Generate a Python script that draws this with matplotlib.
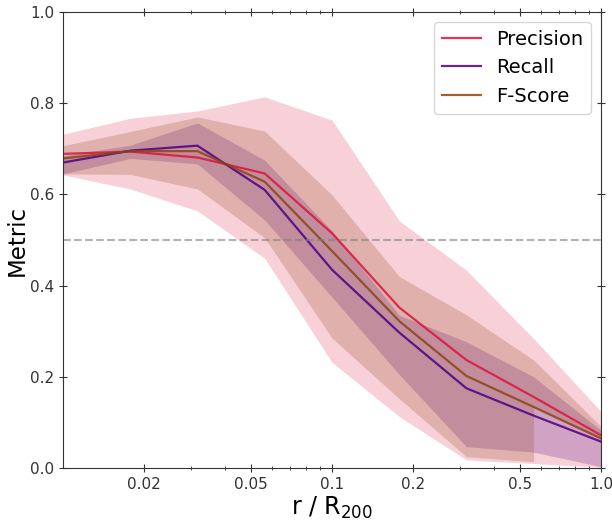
import numpy as np
import matplotlib
matplotlib.use("Agg")
import matplotlib.pyplot as plt

# radial bins (r / R200), log spaced
r_bins = [0.01, 0.0178, 0.0316, 0.0562, 0.1, 0.178, 0.316, 0.562, 1.0]

precision = [0.689, 0.694, 0.681, 0.646, 0.515, 0.352, 0.237, 0.156, 0.072]
precision_hi = [0.732, 0.767, 0.783, 0.814, 0.763, 0.542, 0.434, 0.284, 0.124]
precision_lo = [0.643, 0.612, 0.564, 0.460, 0.232, 0.113, 0.018, 0.010, 0.002]

recall = [0.670, 0.696, 0.707, 0.610, 0.435, 0.297, 0.175, 0.115, 0.058]
recall_hi = [0.685, 0.708, 0.757, 0.675, 0.520, 0.335, 0.277, 0.200, 0.083]
recall_lo = [0.645, 0.679, 0.667, 0.544, 0.375, 0.205, 0.047, 0.035, 0.003]

fscore = [0.679, 0.695, 0.695, 0.628, 0.476, 0.322, 0.202, 0.134, 0.065]
fscore_hi = [0.707, 0.738, 0.770, 0.739, 0.599, 0.420, 0.336, 0.237, 0.091]
fscore_lo = [0.645, 0.644, 0.612, 0.505, 0.285, 0.152, 0.025, 0.014, np.nan]

series = [
    ("Precision", precision, precision_lo, precision_hi, "crimson", 0.2),
    ("Recall", recall, recall_lo, recall_hi, "indigo", 0.22),
    ("F-Score", fscore, fscore_lo, fscore_hi, "saddlebrown", 0.22),
]

fig = plt.figure(figsize=(6.12, 5.23), dpi=100)
ax = fig.add_axes([0.103, 0.105, 0.879, 0.872])

x = np.array(r_bins)
# bands drawn as two halves either side of the mean
for name, mid, lo, hi, col, a in series:
    mid = np.array(mid, dtype=float)
    ax.fill_between(x, np.array(lo, dtype=float), mid, color=col, alpha=a, lw=0)
    ax.fill_between(x, mid, np.array(hi, dtype=float), color=col, alpha=a, lw=0)

for name, mid, lo, hi, col, a in series:
    ax.plot(x, mid, color=col, lw=1.6, alpha=0.85, label=name)

ax.axhline(0.5, color="gray", ls="--", lw=1.5, alpha=0.6)

ax.set_xscale("log")
ax.set_xlim(0.01, 1.0)
ax.set_ylim(0.0, 1.0)
ax.set_xticks([0.02, 0.05, 0.1, 0.2, 0.5, 1.0])
ax.set_xticklabels(["0.02", "0.05", "0.1", "0.2", "0.5", "1.0"])
ax.set_yticks([0.0, 0.2, 0.4, 0.6, 0.8, 1.0])
ax.set_yticklabels(["0.0", "0.2", "0.4", "0.6", "0.8", "1.0"])
ax.tick_params(which="both", direction="inout", top=True, right=True,
               labelsize=11, colors="#333333")
ax.tick_params(which="major", length=6)
ax.tick_params(which="minor", length=3)
for s in ax.spines.values():
    s.set_color("#333333")

ax.set_xlabel("r / R$_{200}$", fontsize=17, labelpad=2)
ax.set_ylabel("Metric", fontsize=16.5, labelpad=1)
ax.legend(loc="upper right", fontsize=14, handlelength=2.0)

fig.savefig("out.png", dpi=100)
